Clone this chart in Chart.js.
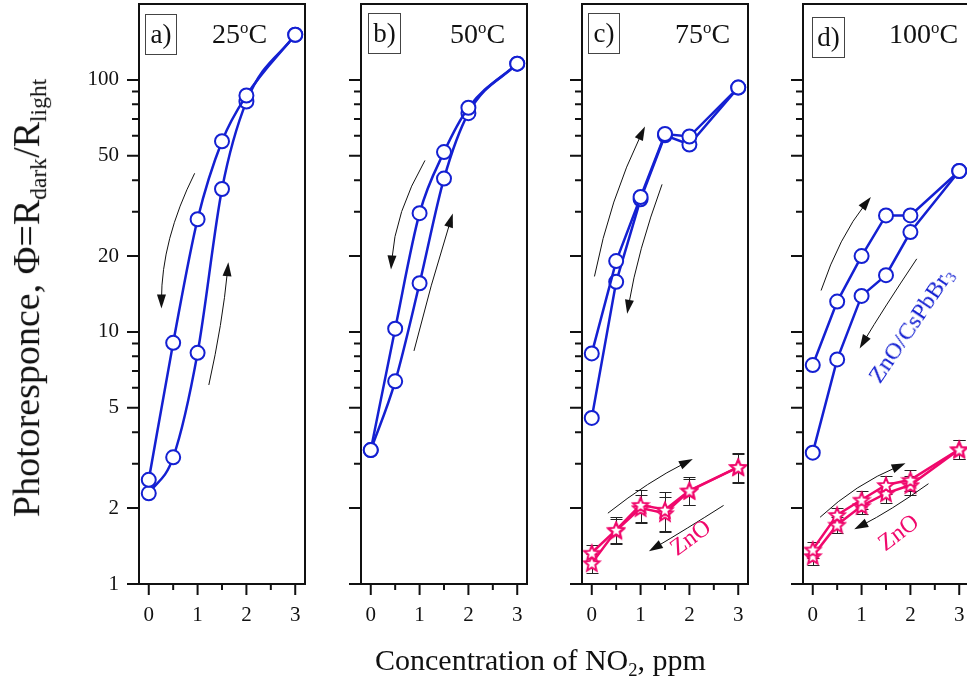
<!DOCTYPE html>
<html>
<head>
<meta charset="utf-8">
<script src="https://cdn.jsdelivr.net/npm/chart.js@4.4.0/dist/chart.umd.min.js"></script>
<style>
  html, body { margin: 0; padding: 0; background: #fff; width: 967px; height: 682px; overflow: hidden; }
  body { position: relative; font-family: "Liberation Serif", "Times New Roman", serif; color: #111; }
  canvas { position: absolute; top: 0; }
  .txt { position: absolute; white-space: nowrap; line-height: 1; }
  .box { position: absolute; border: 1px solid #444; font-size: 27px; text-align: center; box-sizing: border-box; }
  .temp { position: absolute; font-size: 28px; line-height: 1; white-space: nowrap; }
  .temp sup { font-size: 0.6em; vertical-align: 0.6em; line-height: 0; }
  .rot { position: absolute; white-space: nowrap; line-height: 1; transform-origin: center center; }
  sub { font-size: 0.62em; vertical-align: -0.3em; line-height: 0; }
</style>
</head>
<body>
<canvas id="pa"></canvas>
<canvas id="pb"></canvas>
<canvas id="pc"></canvas>
<canvas id="pd"></canvas>

<div class="box" style="left:145px;top:14px;width:32px;height:41px;line-height:39px;">a)</div>
<div class="box" style="left:368px;top:13px;width:33px;height:41px;line-height:39px;">b)</div>
<div class="box" style="left:588px;top:13px;width:32px;height:41px;line-height:39px;">c)</div>
<div class="box" style="left:812px;top:17px;width:33px;height:41px;line-height:39px;">d)</div>

<div class="temp" style="left:212px;top:20px;">25<sup>o</sup>C</div>
<div class="temp" style="left:450px;top:20px;">50<sup>o</sup>C</div>
<div class="temp" style="left:675px;top:20px;">75<sup>o</sup>C</div>
<div class="temp" style="left:889px;top:20px;">100<sup>o</sup>C</div>

<div class="rot" id="ylab" style="font-size:38px;">Photoresponce, &Phi;=R<sub>dark</sub>/R<sub>light</sub></div>
<div class="txt" style="left:375px;top:645px;font-size:30px;">Concentration of NO<sub>2</sub>, ppm</div>

<div class="rot" id="zc" style="font-size:24px;color:#f0086c;">ZnO</div>
<div class="rot" id="zd" style="font-size:24px;color:#f0086c;">ZnO</div>
<div class="rot" id="zcs" style="font-size:24px;color:#1420d2;">ZnO/CsPbBr<sub>3</sub></div>

<script>
// NO2 concentration, ppm
const conc = [0, 0.5, 1, 1.5, 2, 3];

// ZnO/CsPbBr3, two branches of the hysteresis loop
const a25Upper = [2.59, 9.05, 28.0, 57.1, 86.7, 151];
const a25Lower = [2.29, 3.18, 8.26, 36.9, 82.0, 151];
const b50Upper = [3.40, 10.3, 29.6, 51.7, 77.5, 116];
const b50Lower = [3.40, 6.37, 15.6, 40.6, 73.8, 116];
const c75Upper = [8.22, 19.1, 34.3, 61.0, 59.6, 93.2];
const c75Lower = [4.56, 15.8, 33.6, 60.3, 55.4, 93.2];
const d100Upper = [7.39, 13.2, 20.0, 29.0, 29.0, 43.5];
const d100Lower = [3.32, 7.78, 13.9, 16.8, 24.9, 43.5];

// bare ZnO with error bars
const znoC75Upper = [1.33, 1.64, 2.06, 1.97, 2.35, 2.91];
const znoC75Lower = [1.21, 1.63, 2.00, 1.91, 2.34, 2.91];
const znoC75UpperErr = [0.10, 0.20, 0.30, 0.35, 0.30, 0.40];
const znoC75LowerErr = [0.10, 0.18, 0.25, 0.30, 0.28, 0.38];
const znoD100Upper = [1.37, 1.88, 2.16, 2.47, 2.59, 3.42];
const znoD100Lower = [1.29, 1.72, 2.04, 2.29, 2.47, 3.42];
const znoD100UpperErr = [0.10, 0.12, 0.18, 0.20, 0.25, 0.30];
const znoD100LowerErr = [0.10, 0.12, 0.15, 0.20, 0.22, 0.30];

// tick labels
const yLabelTicks = [1, 2, 5, 10, 20, 50, 100];
const yMinorTicks = [3, 4, 6, 7, 8, 9, 30, 40, 60, 70, 80, 90];
const xLabelTicks = [0, 1, 2, 3];
const xMinorTicks = [0.5, 1.5, 2.5];

// direction arrows: [x0, y0, xMid, yMid, x1, y1] in data units, arrowhead at end
const arrowsA = [[0.94, 42.6, 0.43, 23.1, 0.26, 12.4], [1.23, 6.16, 1.47, 10.8, 1.63, 18.9]];
const arrowsB = [[1.11, 47.9, 0.63, 29.5, 0.415, 17.7], [0.885, 8.41, 1.25, 15.5, 1.68, 29.5]];
const arrowsC = [[0.055, 16.6, 0.47, 33.3, 1.09, 65.3], [1.44, 38.5, 1.01, 21.1, 0.725, 11.8],
                 [0.33, 1.91, 1.18, 2.5, 2.07, 3.13], [2.7, 2.05, 1.92, 1.65, 1.17, 1.35]];
const arrowsD = [[0.17, 14.6, 0.61, 23.1, 1.19, 34.3], [2.13, 19.5, 1.49, 12.6, 0.96, 8.6],
                 [0.15, 1.84, 0.95, 2.42, 1.9, 3.01], [2.37, 2.5, 1.6, 1.99, 0.85, 1.65]];

const BLUE = '#1420d2';
const PINK = '#f0086c';
const H = 682, plotTop = 4, plotBottom = 584, plotW = 166, padR = 14;
const tickFont = { family: "'Liberation Serif', 'Times New Roman', serif", size: 21 };

function makeStar(color) {
  const c = document.createElement('canvas');
  const s = 20;
  c.width = s; c.height = s;
  const g = c.getContext('2d');
  g.beginPath();
  for (let i = 0; i < 10; i++) {
    const r = i % 2 ? 3.6 : 8;
    const a = -Math.PI / 2 + i * Math.PI / 5;
    g.lineTo(s / 2 + r * Math.cos(a), s / 2 + 0.8 + r * Math.sin(a));
  }
  g.closePath();
  g.fillStyle = '#fff';
  g.fill();
  g.lineWidth = 2;
  g.strokeStyle = color;
  g.stroke();
  return c;
}
const starImg = makeStar(PINK);

function pts(vals) {
  return conc.map((x, i) => ({ x: x, y: vals[i] }));
}

function blueSet(vals, smooth) {
  return {
    data: pts(vals),
    borderColor: BLUE, borderWidth: 2.5,
    pointRadius: 7, pointBorderWidth: 2, pointBorderColor: BLUE, pointBackgroundColor: '#fff',
    cubicInterpolationMode: smooth ? 'monotone' : 'default', tension: 0, fill: false
  };
}

function pinkSet(vals, errs) {
  return {
    data: pts(vals), errors: errs,
    borderColor: PINK, borderWidth: 2.5,
    pointStyle: starImg, pointRadius: 8, tension: 0, fill: false
  };
}

// frame around plot and the outward tick marks
const framePlugin = {
  id: 'frame',
  afterDraw(chart) {
    const { ctx, chartArea: a, scales: { x, y } } = chart;
    ctx.save();
    ctx.strokeStyle = '#111';
    ctx.lineWidth = 2;
    ctx.strokeRect(a.left, a.top, a.right - a.left, a.bottom - a.top);
    ctx.beginPath();
    yLabelTicks.forEach(v => { const p = y.getPixelForValue(v); ctx.moveTo(a.left, p); ctx.lineTo(a.left - 12, p); });
    yMinorTicks.forEach(v => { const p = y.getPixelForValue(v); ctx.moveTo(a.left, p); ctx.lineTo(a.left - 7, p); });
    xLabelTicks.forEach(v => { const p = x.getPixelForValue(v); ctx.moveTo(p, a.bottom); ctx.lineTo(p, a.bottom + 11); });
    xMinorTicks.forEach(v => { const p = x.getPixelForValue(v); ctx.moveTo(p, a.bottom); ctx.lineTo(p, a.bottom + 6); });
    ctx.stroke();
    ctx.restore();
  }
};

const errorBarPlugin = {
  id: 'errbars',
  beforeDatasetsDraw(chart) {
    const { ctx, scales: { x, y } } = chart;
    ctx.save();
    ctx.strokeStyle = '#222';
    ctx.lineWidth = 1;
    chart.data.datasets.forEach(ds => {
      if (!ds.errors) return;
      ds.data.forEach((p, i) => {
        const px = Math.round(x.getPixelForValue(p.x)) + 0.5;
        const top = Math.round(y.getPixelForValue(p.y + ds.errors[i])) + 0.5;
        const bot = Math.round(y.getPixelForValue(p.y - ds.errors[i])) + 0.5;
        ctx.beginPath();
        ctx.moveTo(px, top); ctx.lineTo(px, bot);
        ctx.moveTo(px - 6, top); ctx.lineTo(px + 6, top);
        ctx.moveTo(px - 6, bot); ctx.lineTo(px + 6, bot);
        ctx.stroke();
      });
    });
    ctx.restore();
  }
};

const arrowPlugin = {
  id: 'arrows',
  afterDatasetsDraw(chart, args, opts) {
    const { ctx, scales: { x, y } } = chart;
    ctx.save();
    ctx.strokeStyle = '#111';
    ctx.fillStyle = '#111';
    ctx.lineWidth = 1;
    (opts.list || []).forEach(a => {
      const x0 = x.getPixelForValue(a[0]), y0 = y.getPixelForValue(a[1]);
      const xm = x.getPixelForValue(a[2]), ym = y.getPixelForValue(a[3]);
      const x1 = x.getPixelForValue(a[4]), y1 = y.getPixelForValue(a[5]);
      // quadratic control point so the curve passes through the mid point
      const cx = 2 * xm - (x0 + x1) / 2, cy = 2 * ym - (y0 + y1) / 2;
      const ang = Math.atan2(y1 - cy, x1 - cx);
      const c = Math.cos(ang), s = Math.sin(ang);
      ctx.beginPath();
      ctx.moveTo(x0, y0);
      ctx.quadraticCurveTo(cx, cy, x1 - 8 * c, y1 - 8 * s);
      ctx.stroke();
      ctx.beginPath();
      ctx.moveTo(x1, y1);
      ctx.lineTo(x1 - 14 * c + 4.5 * s, y1 - 14 * s - 4.5 * c);
      ctx.lineTo(x1 - 14 * c - 4.5 * s, y1 - 14 * s + 4.5 * c);
      ctx.closePath();
      ctx.fill();
    });
    ctx.restore();
  }
};

function makePanel(id, plotLeft, axisW, showY, datasets, arrows) {
  const cv = document.getElementById(id);
  cv.width = axisW + plotW + padR;
  cv.height = H;
  cv.style.left = (plotLeft - axisW) + 'px';
  return new Chart(cv, {
    type: 'line',
    data: { datasets: datasets },
    options: {
      responsive: false,
      animation: false,
      devicePixelRatio: 1,
      layout: { autoPadding: false, padding: { top: plotTop, right: padR, left: 0, bottom: 0 } },
      plugins: { legend: { display: false }, tooltip: { enabled: false }, arrows: { list: arrows } },
      scales: {
        x: {
          type: 'linear', min: -0.2, max: 3.2,
          grid: { display: false, drawTicks: false }, border: { display: false },
          afterBuildTicks: s => { s.ticks = xLabelTicks.map(v => ({ value: v })); },
          afterFit: s => { s.height = H - plotBottom; s.paddingLeft = 0; s.paddingRight = 0; },
          ticks: { padding: 19, font: tickFont, color: '#111', maxRotation: 0, callback: v => String(v) }
        },
        y: {
          type: 'logarithmic', min: 1, max: 200,
          grid: { display: false, drawTicks: false }, border: { display: false },
          afterBuildTicks: s => { s.ticks = yLabelTicks.map(v => ({ value: v })); },
          afterFit: s => { s.width = axisW; s.paddingTop = 0; s.paddingBottom = 0; },
          ticks: { display: showY, padding: 20, font: tickFont, color: '#111', callback: v => String(v) }
        }
      }
    },
    plugins: [framePlugin, errorBarPlugin, arrowPlugin]
  });
}

makePanel('pa', 139, 90, true, [blueSet(a25Upper, true), blueSet(a25Lower, true)], arrowsA);
makePanel('pb', 361, 30, false, [blueSet(b50Upper, true), blueSet(b50Lower, true)], arrowsB);
makePanel('pc', 582, 30, false, [blueSet(c75Upper, false), blueSet(c75Lower, false),
  pinkSet(znoC75Upper, znoC75UpperErr), pinkSet(znoC75Lower, znoC75LowerErr)], arrowsC);
makePanel('pd', 803, 30, false, [blueSet(d100Upper, false), blueSet(d100Lower, false),
  pinkSet(znoD100Upper, znoD100UpperErr), pinkSet(znoD100Lower, znoD100LowerErr)], arrowsD);

// place rotated labels by their centres
function placeRot(id, cx, cy, deg) {
  const el = document.getElementById(id);
  const w = el.offsetWidth, h = el.offsetHeight;
  el.style.left = (cx - w / 2) + 'px';
  el.style.top = (cy - h / 2) + 'px';
  el.style.transform = 'rotate(' + deg + 'deg)';
}
placeRot('ylab', 26, 298, -90);
placeRot('zc', 690, 537, -36);
placeRot('zd', 898, 532, -37);
placeRot('zcs', 910, 325, -56);
</script>
</body>
</html>
